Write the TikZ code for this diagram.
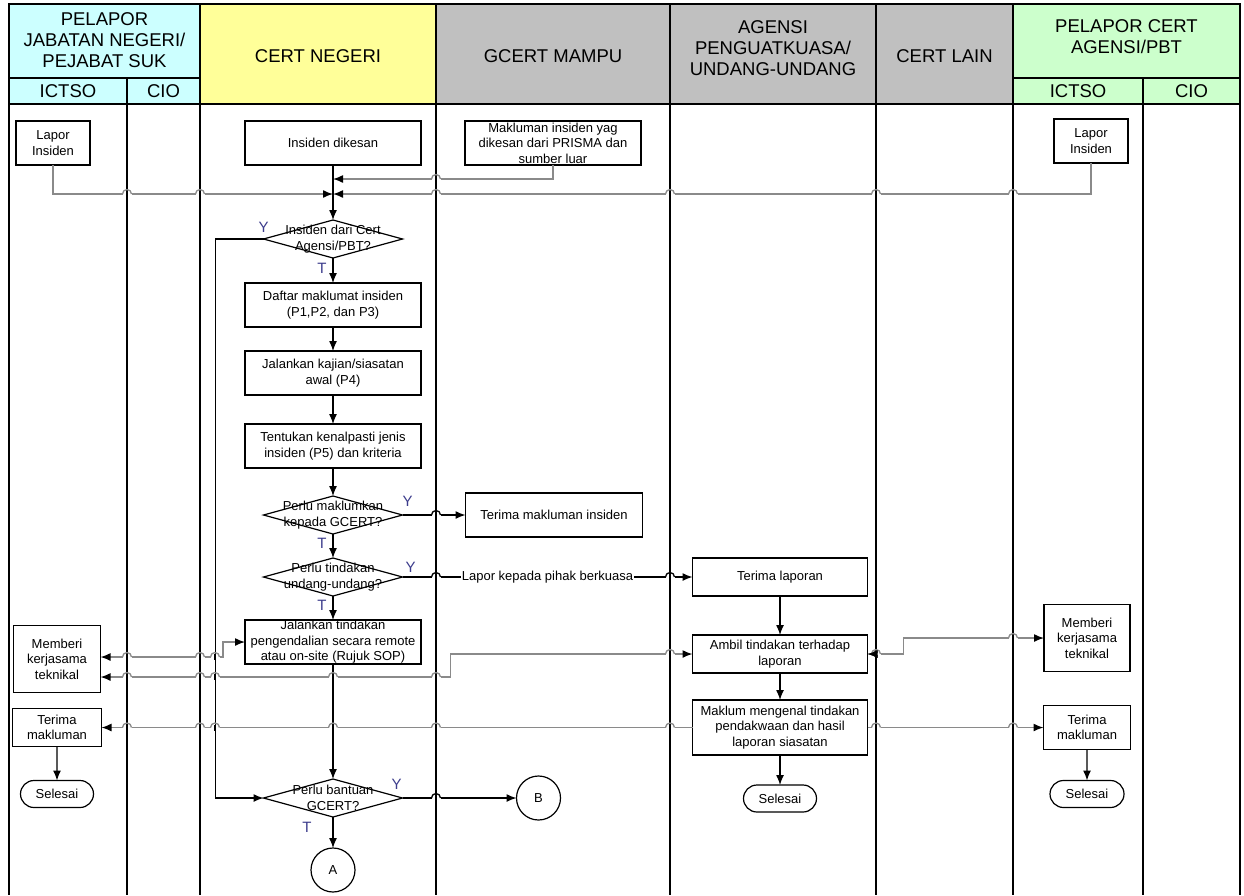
\documentclass[tikz,border=0pt]{standalone}
\usepackage{fontspec}
\setmainfont{Liberation Sans}
\usepackage{xcolor}
\definecolor{laneCyan}{HTML}{CCFFFF}
\definecolor{laneYellow}{HTML}{FFFF99}
\definecolor{laneGray}{HTML}{C0C0C0}
\definecolor{laneGreen}{HTML}{CCFFCC}
\definecolor{flowGray}{HTML}{8A8A8A}
\definecolor{markBlue}{HTML}{3C3C8C}
\usepackage{tikz}
\usetikzlibrary{shapes,arrows,positioning,calc,arrows.meta,shapes.misc}
\newcommand{\headFont}{\fontsize{18.5}{21}\selectfont}
\newcommand{\boxFont}{\fontsize{13}{15.5}\selectfont}
\newcommand{\markFont}{\fontsize{15}{17}\selectfont}
% small bump where a connector jumps over a vertical line
\newcommand{\hop}[3][flowGray]{%
  \fill[white] (#2-4.5,#3-1.4) rectangle (#2+4.5,#3+1.4);
  \draw[laneLine] (#2,#3-3) -- (#2,#3+3);
  \draw[#1, line width=1.3pt] (#2-4.5,#3) arc[start angle=180, end angle=0, radius=4.5pt];
}
\tikzset{%
  laneLine/.style={%
    draw=black,
    line width=1.4pt
  },
  headLine/.style={%
    draw=black,
    line width=1.4pt
  },
  headText/.style={%
    align=center,
    font=\headFont,
    inner sep=0pt
  },
  flowBox/.style={%
    rectangle,
    draw=black,
    line width=1.3pt,
    fill=white,
    minimum width=176,
    minimum height=44,
    inner sep=0pt,
    outer sep=0pt,
    align=center,
    font=\boxFont
  },
  smallBox/.style={%
    flowBox,
    minimum width=87
  },
  endBox/.style={%
    rounded rectangle,
    draw=black,
    line width=1.2pt,
    minimum width=73,
    minimum height=27,
    inner sep=0pt,
    outer sep=0pt,
    font=\boxFont
  },
  decision/.style={%
    diamond,
    draw=black,
    line width=1.2pt,
    minimum width=139,
    minimum height=38,
    inner sep=0pt,
    outer sep=0pt
  },
  decText/.style={%
    align=center,
    font=\boxFont,
    inner sep=0pt
  },
  linkCircle/.style={%
    circle,
    draw=black,
    line width=1.2pt,
    minimum size=44,
    inner sep=0pt,
    outer sep=0pt,
    font=\boxFont
  },
  markText/.style={%
    font=\markFont,
    text=markBlue,
    inner sep=0pt
  },
  flowArrow/.style={%
    -{Latex[length=10pt,width=8pt]},
    line width=1.3pt,
    color=black
  },
  infoArrow/.style={%
    -{Latex[length=10pt,width=8pt,color=black]},
    line width=1.4pt,
    color=flowGray
  },
  infoBoth/.style={%
    {Latex[length=10pt,width=8pt,color=black]}-{Latex[length=10pt,width=8pt,color=black]},
    line width=1.4pt,
    color=flowGray
  }
}
\begin{document}
\begin{tikzpicture}[x=1pt,y=-1pt]
  \useasboundingbox (0,0) rectangle (1244,895);

  % lane headers
  \draw[headLine, fill=laneCyan] (9,4) rectangle (200,78);
  \draw[headLine, fill=laneCyan] (9,78) rectangle (127,104);
  \draw[headLine, fill=laneCyan] (127,78) rectangle (200,104);
  \draw[headLine, fill=laneYellow] (200,4) rectangle (436,104);
  \draw[headLine, fill=laneGray] (436,4) rectangle (670,104);
  \draw[headLine, fill=laneGray] (670,4) rectangle (876,104);
  \draw[headLine, fill=laneGray] (876,4) rectangle (1013,104);
  \draw[headLine, fill=laneGreen] (1013,4) rectangle (1240,78);
  \draw[headLine, fill=laneGreen] (1013,78) rectangle (1143,104);
  \draw[headLine, fill=laneGreen] (1143,78) rectangle (1240,104);

  \node[headText] (hPelaporJ) at (104.5,40) {PELAPOR\\JABATAN NEGERI/\\PEJABAT SUK};
  \node[headText] (hIctsoJ) at (68,91) {ICTSO};
  \node[headText] (hCioJ) at (163.5,91) {CIO};
  \node[headText] (hCert) at (318,56) {CERT NEGERI};
  \node[headText] (hGcert) at (553,56) {GCERT MAMPU};
  \node[headText] (hAgensi) at (773,48) {AGENSI\\PENGUATKUASA/\\UNDANG-UNDANG};
  \node[headText] (hLain) at (944.5,56) {CERT LAIN};
  \node[headText] (hPelaporC) at (1126.5,37) {PELAPOR CERT\\AGENSI/PBT};
  \node[headText] (hIctsoC) at (1078,91) {ICTSO};
  \node[headText] (hCioC) at (1191.5,91) {CIO};

  % lane lines
  \foreach \lx in {9,127,200,436,670,876,1013,1143,1240}
    \draw[laneLine] (\lx,104) -- (\lx,895);

  % reporters
  \node[smallBox, minimum width=74] (laporJ) at (53,143) {Lapor\\Insiden};
  \node[smallBox, minimum width=74] (laporC) at (1091,141) {Lapor\\Insiden};
  \node[flowBox] (prisma) at (553,143) {Makluman insiden yag\\dikesan dari PRISMA dan\\sumber luar};

  % CERT NEGERI flow
  \node[flowBox] (dikesan) at (333,143) {Insiden dikesan};
  \node[decision, below=55pt of dikesan, label={[decText]center:Insiden dari Cert\\Agensi/PBT?}] (agensiQ) {};
  \node[flowBox, below=25pt of agensiQ] (daftar) {Daftar maklumat insiden\\(P1,P2, dan P3)};
  \node[flowBox, below=24pt of daftar] (kajian) {Jalankan kajian/siasatan\\awal (P4)};
  \node[flowBox, below=29pt of kajian] (tentukan) {Tentukan kenalpasti jenis\\insiden (P5) dan kriteria};
  \node[decision, below=28pt of tentukan, label={[decText]center:Perlu maklumkan\\kepada GCERT?}] (gcertQ) {};
  \node[decision, below=24pt of gcertQ, label={[decText]center:Perlu tindakan\\undang-undang?}] (undangQ) {};
  \node[flowBox, below=24pt of undangQ] (jalTindak) {Jalankan tindakan\\pengendalian secara remote\\atau on-site (Rujuk SOP)};
  \node[decision, below=115pt of jalTindak, label={[decText]center:Perlu bantuan\\GCERT?}] (bantuanQ) {};
  \node[linkCircle, below=31pt of bantuanQ] (linkA) {A};
  \node[linkCircle, right=114pt of bantuanQ] (linkB) {B};

  % decision marks
  \node[markText] (agensiY) at ($(agensiQ.west)+(0,-12)$) {Y};
  \node[markText] (agensiT) at ($(agensiQ.south)+(-11,10)$) {T};
  \node[markText] (gcertY) at ($(gcertQ.east)+(5,-14)$) {Y};
  \node[markText] (gcertT) at ($(gcertQ.south)+(-11,9)$) {T};
  \node[markText] (undangY) at ($(undangQ.east)+(8,-10)$) {Y};
  \node[markText] (undangT) at ($(undangQ.south)+(-11,9)$) {T};
  \node[markText] (bantuanY) at ($(bantuanQ.east)+(-6,-14)$) {Y};
  \node[markText] (bantuanT) at ($(bantuanQ.south)+(-26,10)$) {T};

  % GCERT MAMPU
  \node[flowBox, minimum width=177, right=63pt of gcertQ] (terimaInsiden) {Terima makluman insiden};

  % AGENSI PENGUATKUASA
  \node[flowBox, minimum width=175, minimum height=38, right=290pt of undangQ] (terimaLaporan) {Terima laporan};
  \node[flowBox, minimum width=175, minimum height=38, below=39pt of terimaLaporan] (ambil) {Ambil tindakan terhadap\\laporan};
  \node[flowBox, minimum width=175, minimum height=55, below=27pt of ambil] (maklum) {Maklum mengenal tindakan\\pendakwaan dan hasil\\laporan siasatan};
  \node[endBox, below=30pt of maklum] (selesaiM) {Selesai};

  % reporters, lower part
  \node[smallBox, minimum height=67] (memberiJ) at (57,659) {Memberi\\kerjasama\\teknikal};
  \node[smallBox, minimum width=89, minimum height=38] (terimaJ) at (maklum -| memberiJ) {Terima\\makluman};
  \node[endBox, below=34pt of terimaJ] (selesaiJ) {Selesai};
  \node[smallBox, minimum width=86, minimum height=67] (memberiC) at (1087,638) {Memberi\\kerjasama\\teknikal};
  \node[smallBox, right=176pt of maklum] (terimaC) {Terima\\makluman};
  \node[endBox, minimum width=74, below=31pt of terimaC] (selesaiC) {Selesai};

  % reports coming in
  \draw[infoArrow] (prisma.south) |- ($(dikesan.south)+(0,14)$);
  \draw[infoArrow] (laporJ.south) |- ($(dikesan.south)+(0,29)$);
  \draw[infoArrow] (laporC.south) |- ($(dikesan.south)+(0,29)$);

  % main flow
  \draw[flowArrow] (dikesan) -- (agensiQ);
  \draw[flowArrow] (agensiQ) -- (daftar);
  \draw[flowArrow] (daftar) -- (kajian);
  \draw[flowArrow] (kajian) -- (tentukan);
  \draw[flowArrow] (tentukan) -- (gcertQ);
  \draw[flowArrow] (gcertQ) -- (undangQ);
  \draw[flowArrow] (undangQ) -- (jalTindak);
  \draw[flowArrow] (jalTindak) -- (bantuanQ);
  \draw[flowArrow] (bantuanQ) -- (linkA);
  \draw[flowArrow] (bantuanQ) -- (linkB);
  \draw[flowArrow] (agensiQ.west) -- ++(-48,0) |- (bantuanQ.west);
  \draw[flowArrow] (gcertQ) -- (terimaInsiden);
  \draw[flowArrow] (undangQ) -- node[fill=white, inner sep=1pt, font=\boxFont] (laporLabel) {Lapor kepada pihak berkuasa} (terimaLaporan);
  \draw[flowArrow] (terimaLaporan) -- (ambil);
  \draw[flowArrow] (ambil) -- (maklum);
  \draw[flowArrow] (maklum) -- (selesaiM);
  \draw[flowArrow] (terimaJ) -- (selesaiJ);
  \draw[flowArrow] (terimaC) -- (selesaiC);

  % cooperation and notices
  \draw[infoBoth] (jalTindak.west) -- ++(-22,0) |- ($(memberiJ.east)+(0,-2)$);
  \draw[infoBoth] (ambil.west) -- ++(-242,0) |- ($(memberiJ.east)+(0,18)$);
  \draw[infoBoth] (ambil.east) -- ++(36,0) |- (memberiC.west);
  \draw[infoArrow] (maklum.west) -- (terimaJ.east);
  \draw[infoArrow] (maklum.east) -- (terimaC.west);

  % jumps over lines
  \hop{436}{179}
  \foreach \hx in {127,200,436,670,876,1013} {\hop{\hx}{194}}
  \hop[black]{436}{515}
  \hop[black]{436}{577}
  \hop[black]{670}{577}
  \foreach \hx in {127,200,215} {\hop{\hx}{657}}
  \foreach \hx in {127,200,215,333,436} {\hop{\hx}{677}}
  \hop{670}{654}
  \hop{876}{654}
  \hop{1013}{638}
  \foreach \hx in {127,200,215,333,436,670,876,1013} {\hop{\hx}{727.5}}
  \hop[black]{436}{798}
  % tip into Ambil again, over its jump
  \draw[infoArrow] ($(ambil.east)+(2,0)$) -- (ambil.east);
\end{tikzpicture}
\end{document}
